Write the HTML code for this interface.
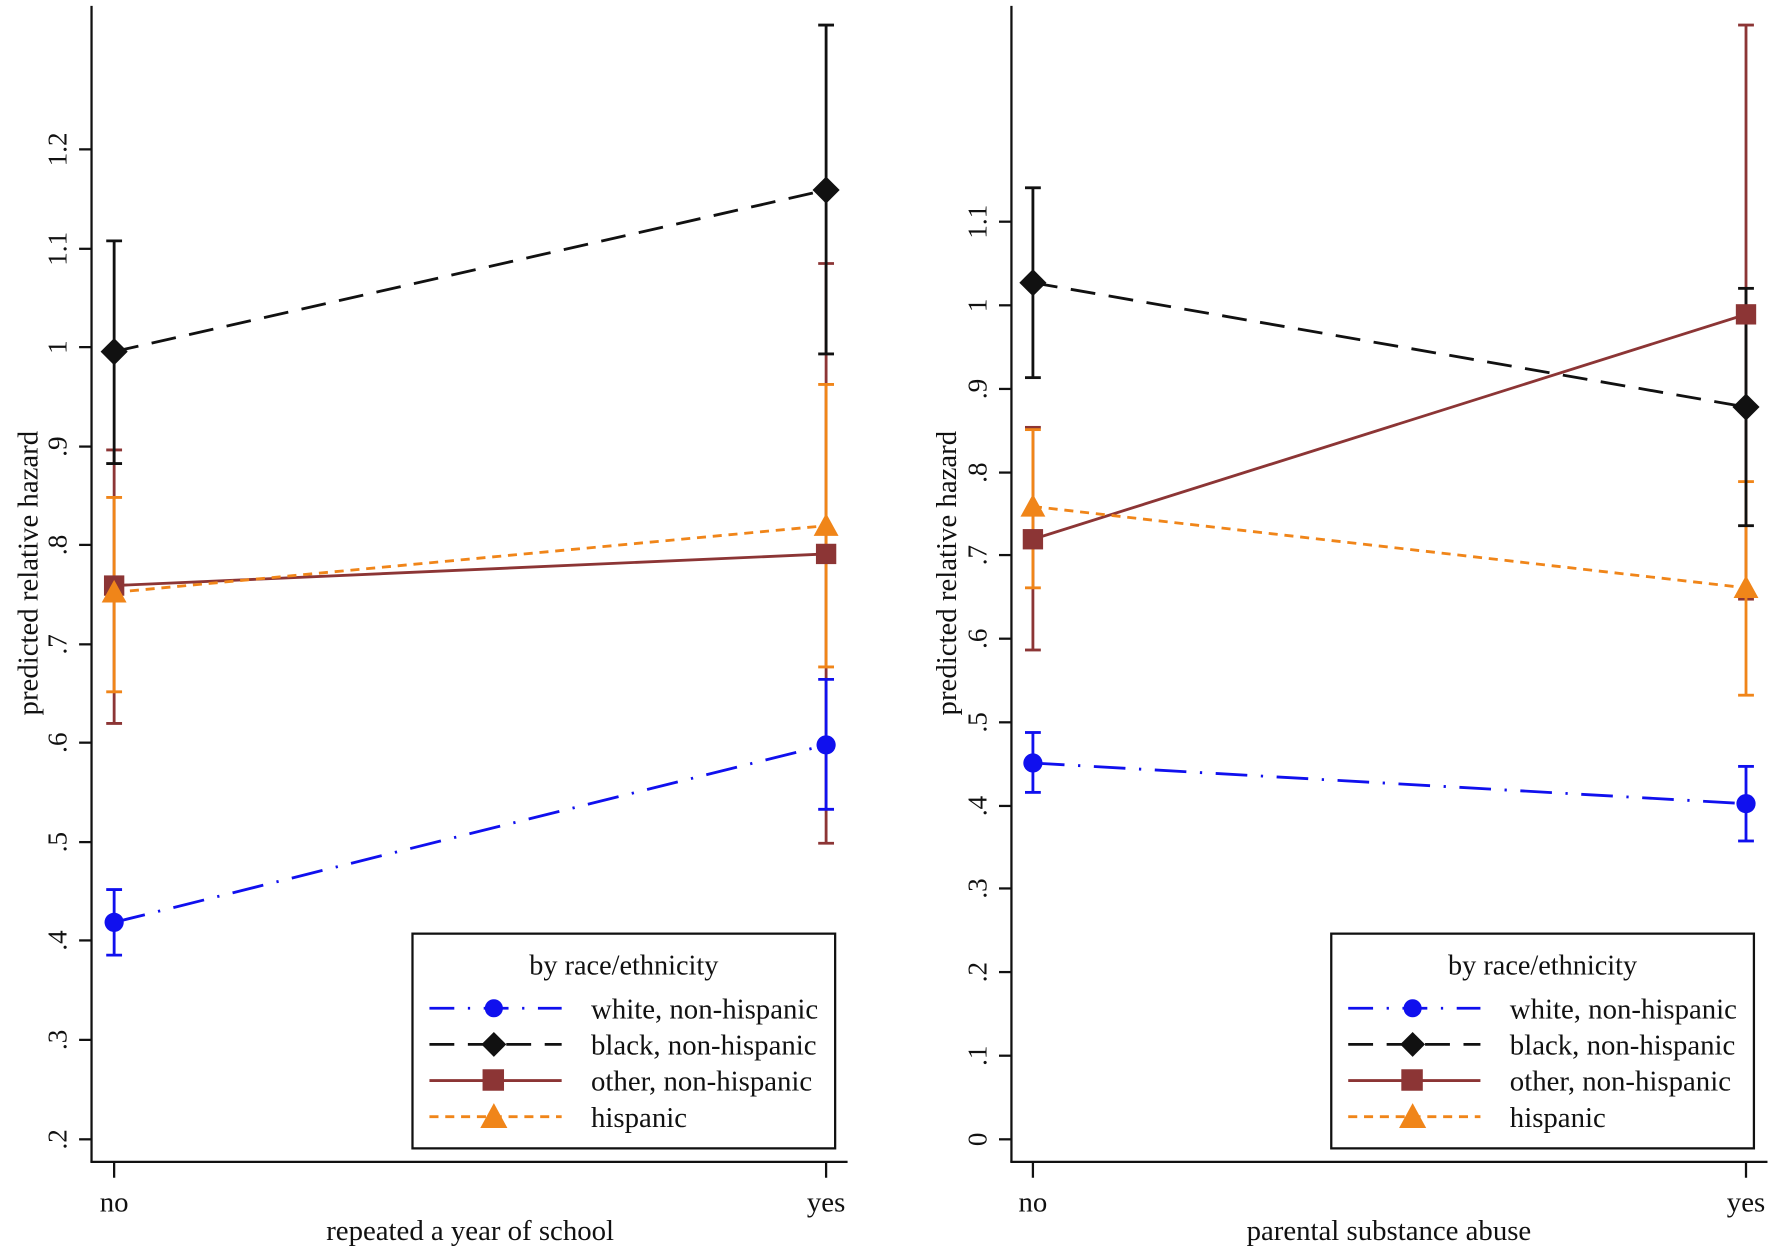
<!DOCTYPE html>
<html><head><meta charset="utf-8"><style>
html,body{margin:0;padding:0;background:#fff;}
svg{display:block;}
text{font-family:"Liberation Serif",serif;fill:#111;}
</style></head><body>
<svg width="1772" height="1248" viewBox="0 0 1568 1104" xmlns="http://www.w3.org/2000/svg">
<rect width="1568" height="1104" fill="#fff"/>
<defs>
<g id="leg">
<rect x="0" y="0" width="374" height="190" fill="#fff" stroke="#111" stroke-width="2"/>
<text x="187" y="36" font-size="25" text-anchor="middle">by race/ethnicity</text>
<line x1="15" y1="66" x2="132" y2="66" stroke="#1010ee" stroke-width="2.5" stroke-dasharray="22,12,2,12"/>
<circle cx="72" cy="66" r="8" fill="#1010ee"/>
<text x="158" y="75" font-size="25.5">white, non-hispanic</text>
<line x1="15" y1="98" x2="132" y2="98" stroke="#111" stroke-width="2.5" stroke-dasharray="22,12"/>
<path d="M72,87 L83,98 L72,109 L61,98Z" fill="#111"/>
<text x="158" y="107" font-size="25.5">black, non-hispanic</text>
<line x1="15" y1="130" x2="132" y2="130" stroke="#8c3535" stroke-width="2.5"/>
<rect x="62" y="120" width="19" height="19" fill="#8c3535"/>
<text x="158" y="139" font-size="25.5">other, non-hispanic</text>
<line x1="15" y1="162" x2="132" y2="162" stroke="#f08519" stroke-width="2.5" stroke-dasharray="8,6"/>
<path d="M72,150 L84,172 L60,172Z" fill="#f08519"/>
<text x="158" y="171" font-size="25.5">hispanic</text>
</g>
</defs>
<g stroke="#111" stroke-width="2" fill="none">
<line x1="81" y1="5" x2="81" y2="1028"/>
<line x1="80" y1="1028" x2="750" y2="1028"/>
<line x1="101" y1="1028" x2="101" y2="1042"/><line x1="731" y1="1028" x2="731" y2="1042"/>
<line x1="895" y1="5" x2="895" y2="1028"/>
<line x1="894" y1="1028" x2="1564" y2="1028"/>
<line x1="914" y1="1028" x2="914" y2="1042"/><line x1="1545" y1="1028" x2="1545" y2="1042"/>
</g>
<g stroke="#111" stroke-width="2">
<line x1="70" y1="1008" x2="81" y2="1008"/><line x1="70" y1="920" x2="81" y2="920"/><line x1="70" y1="832" x2="81" y2="832"/><line x1="70" y1="745" x2="81" y2="745"/><line x1="70" y1="657" x2="81" y2="657"/><line x1="70" y1="570" x2="81" y2="570"/><line x1="70" y1="482" x2="81" y2="482"/><line x1="70" y1="395" x2="81" y2="395"/><line x1="70" y1="307" x2="81" y2="307"/><line x1="70" y1="220" x2="81" y2="220"/><line x1="70" y1="132" x2="81" y2="132"/>
<line x1="884" y1="1008" x2="895" y2="1008"/><line x1="884" y1="934" x2="895" y2="934"/><line x1="884" y1="860" x2="895" y2="860"/><line x1="884" y1="786" x2="895" y2="786"/><line x1="884" y1="713" x2="895" y2="713"/><line x1="884" y1="639" x2="895" y2="639"/><line x1="884" y1="565" x2="895" y2="565"/><line x1="884" y1="491" x2="895" y2="491"/><line x1="884" y1="418" x2="895" y2="418"/><line x1="884" y1="344" x2="895" y2="344"/><line x1="884" y1="270" x2="895" y2="270"/><line x1="884" y1="196" x2="895" y2="196"/>
</g>
<g font-size="24" text-anchor="middle">
<text transform="translate(59,1008) rotate(-90)">.2</text>
<text transform="translate(59,920) rotate(-90)">.3</text>
<text transform="translate(59,832) rotate(-90)">.4</text>
<text transform="translate(59,745) rotate(-90)">.5</text>
<text transform="translate(59,657) rotate(-90)">.6</text>
<text transform="translate(59,570) rotate(-90)">.7</text>
<text transform="translate(59,482) rotate(-90)">.8</text>
<text transform="translate(59,395) rotate(-90)">.9</text>
<text transform="translate(59,307) rotate(-90)">1</text>
<text transform="translate(59,220) rotate(-90)">1.1</text>
<text transform="translate(59,132) rotate(-90)">1.2</text>
<text transform="translate(873,1008) rotate(-90)">0</text>
<text transform="translate(873,934) rotate(-90)">.1</text>
<text transform="translate(873,860) rotate(-90)">.2</text>
<text transform="translate(873,786) rotate(-90)">.3</text>
<text transform="translate(873,713) rotate(-90)">.4</text>
<text transform="translate(873,639) rotate(-90)">.5</text>
<text transform="translate(873,565) rotate(-90)">.6</text>
<text transform="translate(873,491) rotate(-90)">.7</text>
<text transform="translate(873,418) rotate(-90)">.8</text>
<text transform="translate(873,344) rotate(-90)">.9</text>
<text transform="translate(873,270) rotate(-90)">1</text>
<text transform="translate(873,196) rotate(-90)">1.1</text>
</g>
<g font-size="25.5" text-anchor="middle">
<text transform="translate(33,507) rotate(-90)">predicted relative hazard</text>
<text transform="translate(846,507) rotate(-90)">predicted relative hazard</text>
<text x="101" y="1072">no</text><text x="731" y="1072">yes</text>
<text x="914" y="1072">no</text><text x="1545" y="1072">yes</text>
<text x="416" y="1097">repeated a year of school</text>
<text x="1229" y="1097">parental substance abuse</text>
</g>
<g stroke-width="2.5" fill="none">
<line x1="101" y1="816" x2="731" y2="659" stroke="#1010ee" stroke-dasharray="28,12,2,12"/>
<line x1="101" y1="311" x2="731" y2="168" stroke="#111" stroke-dasharray="22,12"/>
<line x1="101" y1="518" x2="731" y2="490" stroke="#8c3535"/>
<line x1="101" y1="524" x2="731" y2="465" stroke="#f08519" stroke-dasharray="8,6"/>
</g>
<g stroke-width="2.5">
<g stroke="#8c3535"><line x1="101" y1="398" x2="101" y2="640"/><line x1="94" y1="398" x2="108" y2="398"/><line x1="94" y1="640" x2="108" y2="640"/>
<line x1="731" y1="233" x2="731" y2="746"/><line x1="724" y1="233" x2="738" y2="233"/><line x1="724" y1="746" x2="738" y2="746"/></g>
<g stroke="#f08519"><line x1="101" y1="440" x2="101" y2="612"/><line x1="94" y1="440" x2="108" y2="440"/><line x1="94" y1="612" x2="108" y2="612"/>
<line x1="731" y1="340" x2="731" y2="590"/><line x1="724" y1="340" x2="738" y2="340"/><line x1="724" y1="590" x2="738" y2="590"/></g>
<g stroke="#111"><line x1="101" y1="213" x2="101" y2="410"/><line x1="94" y1="213" x2="108" y2="213"/><line x1="94" y1="410" x2="108" y2="410"/>
<line x1="731" y1="22" x2="731" y2="313"/><line x1="724" y1="22" x2="738" y2="22"/><line x1="724" y1="313" x2="738" y2="313"/></g>
<g stroke="#1010ee"><line x1="101" y1="787" x2="101" y2="845"/><line x1="94" y1="787" x2="108" y2="787"/><line x1="94" y1="845" x2="108" y2="845"/>
<line x1="731" y1="601" x2="731" y2="716"/><line x1="724" y1="601" x2="738" y2="601"/><line x1="724" y1="716" x2="738" y2="716"/></g>
</g>
<circle cx="101" cy="816" r="8.5" fill="#1010ee"/><circle cx="731" cy="659" r="8.5" fill="#1010ee"/>
<path d="M101,299 L113,311 L101,323 L89,311Z" fill="#111"/><path d="M731,156 L743,168 L731,180 L719,168Z" fill="#111"/>
<rect x="92" y="509" width="18" height="18" fill="#8c3535"/><rect x="722" y="481" width="18" height="18" fill="#8c3535"/>
<path d="M101,513 L112,533 L90,533Z" fill="#f08519"/><path d="M731,454 L742,474 L720,474Z" fill="#f08519"/>
<g stroke-width="2.5" fill="none">
<line x1="914" y1="675" x2="1545" y2="711" stroke="#1010ee" stroke-dasharray="28,12,2,12"/>
<line x1="914" y1="250" x2="1545" y2="360" stroke="#111" stroke-dasharray="22,12"/>
<line x1="914" y1="477" x2="1545" y2="278" stroke="#8c3535"/>
<line x1="914" y1="448" x2="1545" y2="520" stroke="#f08519" stroke-dasharray="8,6"/>
</g>
<g stroke-width="2.5">
<g stroke="#8c3535"><line x1="914" y1="378" x2="914" y2="575"/><line x1="907" y1="378" x2="921" y2="378"/><line x1="907" y1="575" x2="921" y2="575"/>
<line x1="1545" y1="22" x2="1545" y2="530"/><line x1="1538" y1="22" x2="1552" y2="22"/><line x1="1538" y1="530" x2="1552" y2="530"/></g>
<g stroke="#f08519"><line x1="914" y1="380" x2="914" y2="520"/><line x1="907" y1="380" x2="921" y2="380"/><line x1="907" y1="520" x2="921" y2="520"/>
<line x1="1545" y1="426" x2="1545" y2="615"/><line x1="1538" y1="426" x2="1552" y2="426"/><line x1="1538" y1="615" x2="1552" y2="615"/></g>
<g stroke="#111"><line x1="914" y1="166" x2="914" y2="334"/><line x1="907" y1="166" x2="921" y2="166"/><line x1="907" y1="334" x2="921" y2="334"/>
<line x1="1545" y1="255" x2="1545" y2="465"/><line x1="1538" y1="255" x2="1552" y2="255"/><line x1="1538" y1="465" x2="1552" y2="465"/></g>
<g stroke="#1010ee"><line x1="914" y1="648" x2="914" y2="701"/><line x1="907" y1="648" x2="921" y2="648"/><line x1="907" y1="701" x2="921" y2="701"/>
<line x1="1545" y1="678" x2="1545" y2="744"/><line x1="1538" y1="678" x2="1552" y2="678"/><line x1="1538" y1="744" x2="1552" y2="744"/></g>
</g>
<circle cx="914" cy="675" r="8.5" fill="#1010ee"/><circle cx="1545" cy="711" r="8.5" fill="#1010ee"/>
<path d="M914,238 L926,250 L914,262 L902,250Z" fill="#111"/><path d="M1545,348 L1557,360 L1545,372 L1533,360Z" fill="#111"/>
<rect x="905" y="468" width="18" height="18" fill="#8c3535"/><rect x="1536" y="269" width="18" height="18" fill="#8c3535"/>
<path d="M914,437 L925,457 L903,457Z" fill="#f08519"/><path d="M1545,509 L1556,529 L1534,529Z" fill="#f08519"/>
<use href="#leg" x="365" y="826"/>
<use href="#leg" x="1178" y="826"/>
</svg>
</body></html>
